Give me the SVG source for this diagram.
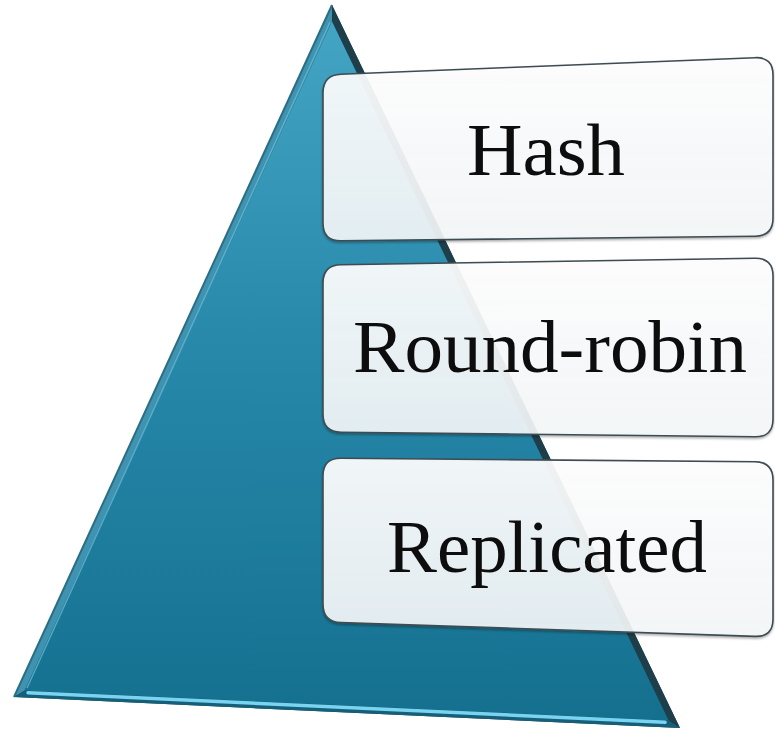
<svg xmlns="http://www.w3.org/2000/svg" width="775" height="730" viewBox="0 0 775 730">
  <defs>
    <linearGradient id="pyrFill" x1="0" y1="0" x2="0" y2="1">
      <stop offset="0" stop-color="#43a4c3"/>
      <stop offset="0.45" stop-color="#2889ab"/>
      <stop offset="1" stop-color="#15708f"/>
    </linearGradient>
    <linearGradient id="boxFill" x1="0" y1="0" x2="0" y2="1">
      <stop offset="0" stop-color="#ffffff" stop-opacity="0.92"/>
      <stop offset="1" stop-color="#f6f9fb" stop-opacity="0.89"/>
    </linearGradient>
    <filter id="soft" x="-5%" y="-5%" width="110%" height="115%">
      <feDropShadow dx="0" dy="1.5" stdDeviation="1.2" flood-color="#000" flood-opacity="0.35"/>
    </filter>
  </defs>
  <style>
    .box { fill: url(#boxFill); stroke: #3e4c52; stroke-width: 1.6; filter: url(#soft); }
    .label { font-family: "Liberation Serif", "DejaVu Serif", serif; font-size: 74px; fill: #0d0d0d; text-anchor: middle; }
  </style>

  <rect width="775" height="730" fill="#ffffff"/>

  <!-- pyramid with bevelled edges -->
  <g id="pyramid">
    <polygon points="332,5 14,697 680,728" fill="#0f4e63"/>
    <!-- left bevel -->
    <polygon points="332,5 14,697 24.7,690.5 332,21.5" fill="#3f93b0"/>
    <!-- right bevel -->
    <polygon points="332,5 680,728 668.6,720.4 332,21.5" fill="#1e3f4a"/>
    <!-- bottom bevel -->
    <polygon points="14,697 680,728 668.6,720.4 24.7,690.5" fill="#175f78"/>
    <polygon points="332,21.5 24.7,690.5 668.6,720.4" fill="url(#pyrFill)"/>
    <line x1="28" y1="692.8" x2="665" y2="722.3" stroke="#78d4f0" stroke-width="3.5" stroke-linecap="round"/>
    <line x1="330" y1="22" x2="27" y2="688" stroke="#63b8d4" stroke-width="1.4" opacity="0.8"/>
    <line x1="332" y1="5" x2="14" y2="697" stroke="#2b6e84" stroke-width="2"/>
  </g>

  <g id="node-hash">
    <path class="box" d="M 323,93 Q 323,75 341,74.3 L 755,57.7 Q 773,57 773,75 L 773,218 Q 773,236 755,236.2 L 341,240.8 Q 323,241 323,223 Z"/>
    <text class="label" x="546" y="175" textLength="158" lengthAdjust="spacingAndGlyphs">Hash</text>
  </g>

  <g id="node-round-robin">
    <path class="box" d="M 323,283 Q 323,265 341,264.7 L 755,258.3 Q 773,258 773,276 L 773,419 Q 773,437 755,436.8 L 341,432.2 Q 323,432 323,414 Z"/>
    <text class="label" x="550" y="372" textLength="394" lengthAdjust="spacingAndGlyphs">Round-robin</text>
  </g>

  <g id="node-replicated">
    <path class="box" d="M 323,476 Q 323,458 341,458.2 L 755,461.8 Q 773,462 773,480 L 773,619 Q 773,637 755,636.4 L 341,622.6 Q 323,622 323,604 Z"/>
    <text class="label" x="547" y="572" textLength="320" lengthAdjust="spacingAndGlyphs">Replicated</text>
  </g>

  <g id="connectors"/>
</svg>
